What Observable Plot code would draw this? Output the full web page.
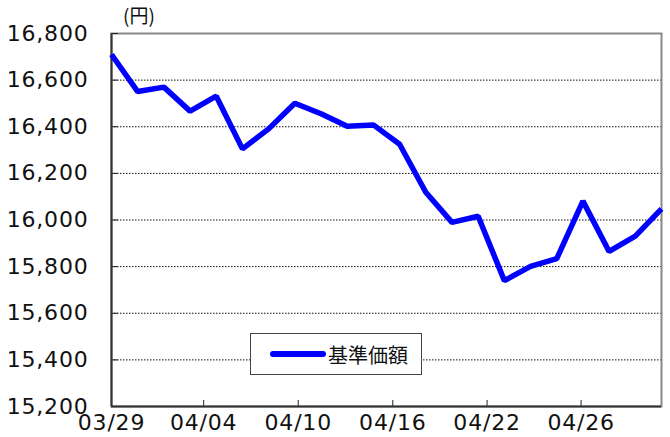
<!DOCTYPE html>
<html><head><meta charset="utf-8">
<script src="https://cdn.jsdelivr.net/npm/d3@7"></script>
<script src="https://cdn.jsdelivr.net/npm/@observablehq/plot@0.6"></script>
<style>
body{margin:0;background:#fff;font-family:"DejaVu Sans",sans-serif}
#wrap{position:relative;width:670px;height:437px}
#unit{position:absolute;left:123px;top:3px;font-size:19px;line-height:24px;color:#111;font-family:"Noto Sans CJK JP",sans-serif;white-space:nowrap}
#legend{position:absolute;left:250px;top:333px;width:172px;height:42px;border:1px solid #444;background:#fff;box-sizing:border-box;display:flex;align-items:center;padding-left:19px;font-size:20px;color:#111;font-family:"Noto Sans CJK JP",sans-serif}
#legend .sw{display:inline-block;width:56px;height:6px;border-radius:3px;background:#0000ff;margin-right:2px}
svg text{letter-spacing:0.8px}
</style>
</head><body>
<div id="wrap"><div id="chart"></div><div id="unit">(円)</div>
<div id="legend"><span class="sw"></span><span id="legtext"></span></div></div>
<script>
const seriesName = "基準価額";
const values = [16710, 16551, 16570, 16467, 16531, 16305, 16391, 16501, 16456, 16402, 16408, 16325, 16119, 15990, 16016, 15740, 15801, 15834, 16081, 15865, 15931, 16048];
const xTickLabels = ["03/29", "04/04", "04/10", "04/16", "04/22", "04/26"];
const xTickPositions = [0, 3.52, 7.13, 10.74, 14.34, 17.93];
const yTicks = d3.range(15200, 16801, 200);

document.getElementById("legtext").textContent = seriesName;

const data = values.map((v, i) => ({i, v}));
const chart = Plot.plot({
  width: 670, height: 437,
  marginLeft: 111, marginRight: 9, marginTop: 33, marginBottom: 31,
  style: {fontFamily: "DejaVu Sans, sans-serif", fontSize: "22px", color: "#111", background: "#fff"},
  x: {domain: [0, values.length - 1]},
  y: {domain: [15200, 16800]},
  marks: [
    Plot.ruleY(yTicks.slice(1, -1), {stroke: "#111", strokeWidth: 1, strokeDasharray: "1.5,1.5"}),
    Plot.frame({stroke: "#888", strokeWidth: 2}),
    Plot.axisY(yTicks, {tickSize: 0, tickPadding: 23, tickFormat: d3.format(","), fontSize: 22, label: null}),
    Plot.axisY(yTicks, {tickSize: -7, tickFormat: () => "", label: null, stroke: "#222"}),
    Plot.axisX(xTickPositions, {tickSize: 0, tickPadding: 8, tickFormat: (d, i) => xTickLabels[i], fontSize: 22, label: null}),
    Plot.axisX(xTickPositions.slice(1), {tickSize: -6, tickFormat: () => "", label: null, stroke: "#222"}),
    Plot.ruleX([0], {stroke: "#333", strokeWidth: 2}),
    Plot.ruleY([15200], {stroke: "#333", strokeWidth: 2}),
    Plot.lineY(data, {x: "i", y: "v", stroke: "#0000ff", strokeWidth: 5.5, strokeLinejoin: "miter", strokeLinecap: "butt"})
  ]
});
document.getElementById("chart").appendChild(chart);
</script>
</body></html>
